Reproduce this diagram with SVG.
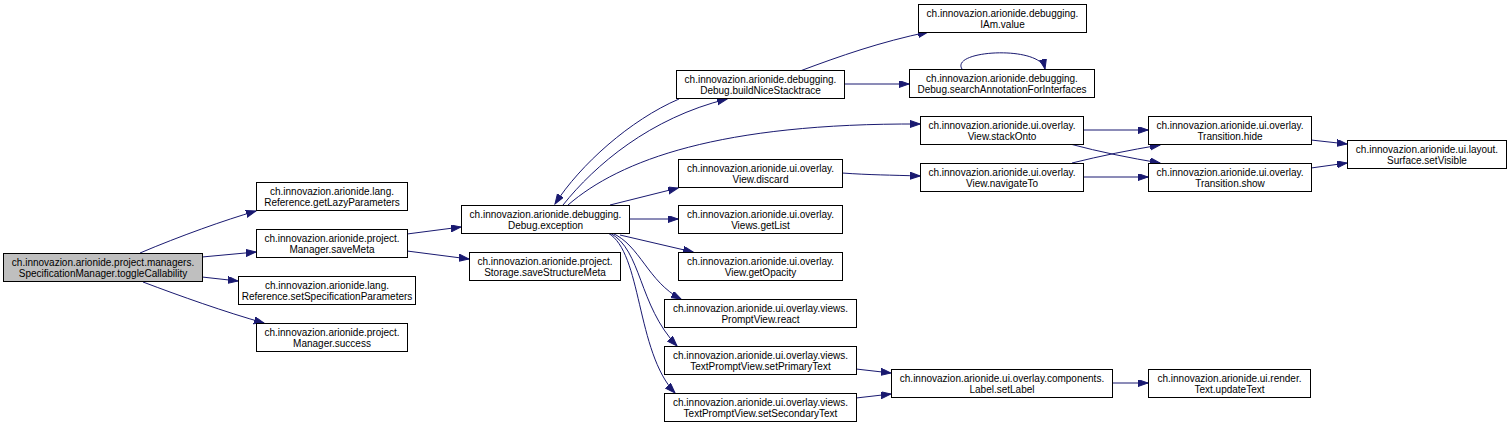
<svg xmlns="http://www.w3.org/2000/svg" width="1509" height="426" viewBox="0 0 1509 426">
<style>
.n rect{fill:#ffffff;stroke:#000000;stroke-width:1}
.n.root rect{fill:#bfbfbf}
.n text{font-family:"Liberation Sans",Arial,Helvetica,sans-serif;font-size:10px;fill:#000000;text-anchor:middle}
#edges path{fill:none;stroke:#191970;stroke-width:1;marker-end:url(#arr)}
</style>
<defs>
<marker id="arr" markerUnits="userSpaceOnUse" markerWidth="11" markerHeight="8" refX="10" refY="3.5" orient="auto">
<path d="M0,0 L10,3.5 L0,7 z" fill="#191970" stroke="#191970" stroke-width="1"/>
</marker>
</defs>
<rect width="1509" height="426" fill="#ffffff"/>
<g id="edges">
<path d="M140,253 C180,236 225,220 256,211"/>
<path d="M202,257 L256,252"/>
<path d="M202,277 L238,281"/>
<path d="M143,282 C180,296 225,312 264,323"/>
<path d="M407,234 L461,227"/>
<path d="M407,251 L469,259"/>
<path d="M563,205 C595,165 650,118 727,99"/>
<path d="M679,99 C630,120 580,165 555,204"/>
<path d="M568,205 C620,160 720,123 920,124"/>
<path d="M610,205 L678,188"/>
<path d="M629,219 L678,219"/>
<path d="M620,235 L693,252"/>
<path d="M612,233 C640,245 648,282 681,299"/>
<path d="M610,233 C642,250 638,305 677,346"/>
<path d="M608,233 C642,252 636,352 675,393"/>
<path d="M800,71 C840,56 880,42 928,32"/>
<path d="M844,84 L909,84"/>
<path d="M962,69 C950,50 1040,45 1045,69"/>
<path d="M842,173 C870,175 890,175 920,176"/>
<path d="M1083,130 L1148,130"/>
<path d="M1070,144 C1100,152 1130,158 1160,163"/>
<path d="M1072,163 C1100,156 1130,150 1160,145"/>
<path d="M1083,177 L1148,177"/>
<path d="M1311,140 L1347,144"/>
<path d="M1311,168 L1347,163"/>
<path d="M856,369 L891,373"/>
<path d="M856,398 L891,394"/>
<path d="M1112,383 L1148,383"/>
</g>
<g id="node-toggleCallability" class="n root"><rect x="3.5" y="253.5" width="199" height="28"/><text x="103" y="265.8">ch.innovazion.arionide.project.managers.</text><text x="103" y="276.8">SpecificationManager.toggleCallability</text></g>
<g id="node-getLazyParameters" class="n"><rect x="256.5" y="182.5" width="151" height="28"/><text x="332" y="194.8">ch.innovazion.arionide.lang.</text><text x="332" y="205.8">Reference.getLazyParameters</text></g>
<g id="node-saveMeta" class="n"><rect x="256.5" y="229.5" width="151" height="28"/><text x="332" y="241.8">ch.innovazion.arionide.project.</text><text x="332" y="252.8">Manager.saveMeta</text></g>
<g id="node-setSpecificationParameters" class="n"><rect x="238.5" y="276.5" width="177" height="28"/><text x="327" y="288.8">ch.innovazion.arionide.lang.</text><text x="327" y="299.8">Reference.setSpecificationParameters</text></g>
<g id="node-success" class="n"><rect x="256.5" y="323.5" width="151" height="28"/><text x="332" y="335.8">ch.innovazion.arionide.project.</text><text x="332" y="346.8">Manager.success</text></g>
<g id="node-exception" class="n"><rect x="461.5" y="205.5" width="168" height="28"/><text x="545.5" y="217.8">ch.innovazion.arionide.debugging.</text><text x="545.5" y="228.8">Debug.exception</text></g>
<g id="node-saveStructureMeta" class="n"><rect x="469.5" y="252.5" width="151" height="28"/><text x="545" y="264.8">ch.innovazion.arionide.project.</text><text x="545" y="275.8">Storage.saveStructureMeta</text></g>
<g id="node-buildNiceStacktrace" class="n"><rect x="676.5" y="70.5" width="168" height="28"/><text x="760.5" y="82.8">ch.innovazion.arionide.debugging.</text><text x="760.5" y="93.8">Debug.buildNiceStacktrace</text></g>
<g id="node-discard" class="n"><rect x="678.5" y="159.5" width="164" height="28"/><text x="760.5" y="171.8">ch.innovazion.arionide.ui.overlay.</text><text x="760.5" y="182.8">View.discard</text></g>
<g id="node-getList" class="n"><rect x="678.5" y="205.5" width="164" height="28"/><text x="760.5" y="217.8">ch.innovazion.arionide.ui.overlay.</text><text x="760.5" y="228.8">Views.getList</text></g>
<g id="node-getOpacity" class="n"><rect x="678.5" y="252.5" width="164" height="28"/><text x="760.5" y="264.8">ch.innovazion.arionide.ui.overlay.</text><text x="760.5" y="275.8">View.getOpacity</text></g>
<g id="node-react" class="n"><rect x="664.5" y="299.5" width="192" height="28"/><text x="760.5" y="311.8">ch.innovazion.arionide.ui.overlay.views.</text><text x="760.5" y="322.8">PromptView.react</text></g>
<g id="node-setPrimaryText" class="n"><rect x="664.5" y="346.5" width="192" height="28"/><text x="760.5" y="358.8">ch.innovazion.arionide.ui.overlay.views.</text><text x="760.5" y="369.8">TextPromptView.setPrimaryText</text></g>
<g id="node-setSecondaryText" class="n"><rect x="664.5" y="393.5" width="192" height="28"/><text x="760.5" y="405.8">ch.innovazion.arionide.ui.overlay.views.</text><text x="760.5" y="416.8">TextPromptView.setSecondaryText</text></g>
<g id="node-IAm-value" class="n"><rect x="918.5" y="4.5" width="168" height="28"/><text x="1002.5" y="16.8">ch.innovazion.arionide.debugging.</text><text x="1002.5" y="27.8">IAm.value</text></g>
<g id="node-searchAnnotationForInterfaces" class="n"><rect x="909.5" y="69.5" width="185" height="28"/><text x="1002" y="81.8">ch.innovazion.arionide.debugging.</text><text x="1002" y="92.8">Debug.searchAnnotationForInterfaces</text></g>
<g id="node-stackOnto" class="n"><rect x="920.5" y="116.5" width="163" height="28"/><text x="1002" y="128.8">ch.innovazion.arionide.ui.overlay.</text><text x="1002" y="139.8">View.stackOnto</text></g>
<g id="node-navigateTo" class="n"><rect x="920.5" y="163.5" width="163" height="28"/><text x="1002" y="175.8">ch.innovazion.arionide.ui.overlay.</text><text x="1002" y="186.8">View.navigateTo</text></g>
<g id="node-setLabel" class="n"><rect x="891.5" y="369.5" width="221" height="28"/><text x="1002" y="381.8">ch.innovazion.arionide.ui.overlay.components.</text><text x="1002" y="392.8">Label.setLabel</text></g>
<g id="node-hide" class="n"><rect x="1148.5" y="116.5" width="163" height="28"/><text x="1230" y="128.8">ch.innovazion.arionide.ui.overlay.</text><text x="1230" y="139.8">Transition.hide</text></g>
<g id="node-show" class="n"><rect x="1148.5" y="163.5" width="163" height="28"/><text x="1230" y="175.8">ch.innovazion.arionide.ui.overlay.</text><text x="1230" y="186.8">Transition.show</text></g>
<g id="node-updateText" class="n"><rect x="1148.5" y="369.5" width="162" height="28"/><text x="1229.5" y="381.8">ch.innovazion.arionide.ui.render.</text><text x="1229.5" y="392.8">Text.updateText</text></g>
<g id="node-setVisible" class="n"><rect x="1347.5" y="140.5" width="159" height="28"/><text x="1427" y="152.8">ch.innovazion.arionide.ui.layout.</text><text x="1427" y="163.8">Surface.setVisible</text></g>
</svg>
